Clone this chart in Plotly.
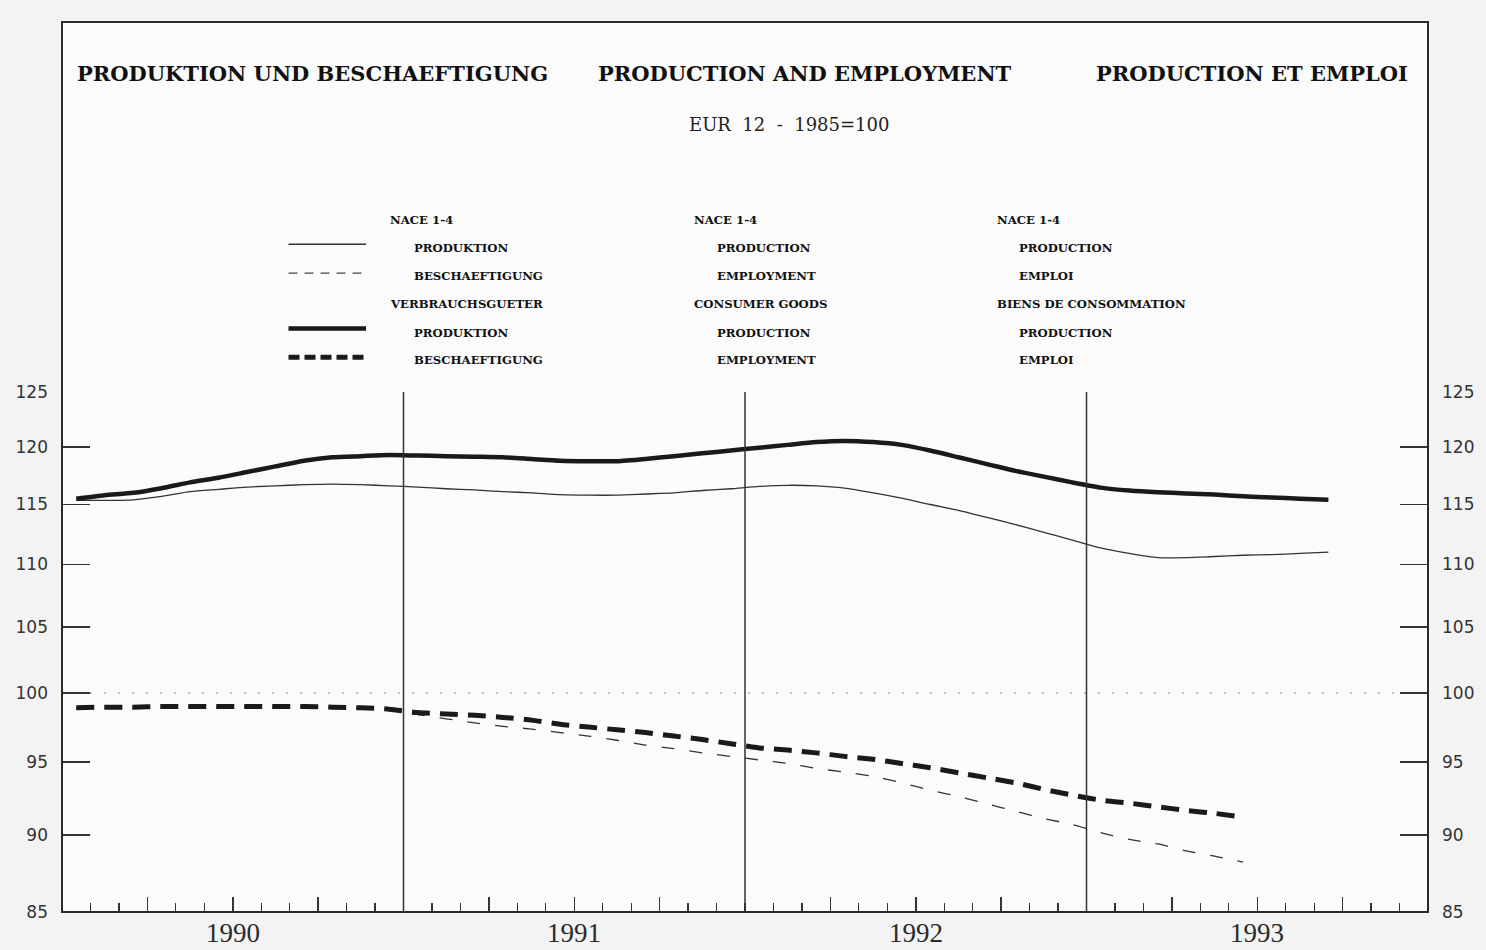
import plotly.graph_objects as go
import math

# ---------------- data (monthly, index 1985 = 100) ----------------
start_year = 1990
prod_nace = [115.35, 115.35, 115.4, 115.7, 116.1, 116.3, 116.5, 116.6, 116.7, 116.75, 116.7, 116.6,
             116.5, 116.35, 116.25, 116.1, 116.0, 115.85, 115.8, 115.8, 115.9, 116.0, 116.2, 116.35,
             116.55, 116.65, 116.6, 116.4, 116.0, 115.55, 115.0, 114.5, 113.9, 113.3, 112.65, 112.0,
             111.35, 110.9, 110.55, 110.55, 110.65, 110.75, 110.8, 110.9, 111.0]
prod_cg = [115.5, 115.8, 116.0, 116.4, 116.9, 117.3, 117.8, 118.3, 118.8, 119.1, 119.2, 119.3,
           119.25, 119.2, 119.15, 119.1, 118.95, 118.8, 118.75, 118.75, 118.95, 119.2, 119.45, 119.7,
           119.95, 120.2, 120.45, 120.55, 120.45, 120.2, 119.7, 119.1, 118.5, 117.9, 117.4, 116.9,
           116.45, 116.2, 116.05, 115.95, 115.85, 115.7, 115.6, 115.5, 115.4]
empl_nace = [98.85, 98.9, 98.9, 98.95, 98.95, 98.95, 98.95, 98.95, 98.95, 98.9, 98.85, 98.75,
             98.4, 98.1, 97.8, 97.55, 97.35, 97.1, 96.85, 96.55, 96.2, 95.95, 95.65, 95.4,
             95.15, 94.9, 94.55, 94.3, 94.0, 93.55, 93.05, 92.6, 92.1, 91.6, 91.1, 90.7,
             90.15, 89.7, 89.4, 88.95, 88.6, 88.2]
empl_cg = [98.9, 98.95, 98.95, 99.0, 99.0, 99.0, 99.0, 99.0, 99.0, 98.95, 98.9, 98.8,
           98.55, 98.45, 98.35, 98.2, 98.0, 97.7, 97.5, 97.3, 97.1, 96.85, 96.6, 96.3,
           96.0, 95.85, 95.65, 95.4, 95.2, 94.9, 94.6, 94.25, 93.9, 93.55, 93.1, 92.7,
           92.35, 92.15, 91.9, 91.65, 91.45, 91.2]

years = [1990, 1991, 1992, 1993]
y_ticks = [85, 90, 95, 100, 105, 110, 115, 120, 125]

titles = ["PRODUKTION UND BESCHAEFTIGUNG", "PRODUCTION AND EMPLOYMENT", "PRODUCTION ET EMPLOI"]
subtitle = "EUR  12  -  1985=100"
legend_cols = [
    ["NACE 1-4", "PRODUKTION", "BESCHAEFTIGUNG", "VERBRAUCHSGUETER", "PRODUKTION", "BESCHAEFTIGUNG"],
    ["NACE 1-4", "PRODUCTION", "EMPLOYMENT", "CONSUMER GOODS", "PRODUCTION", "EMPLOYMENT"],
    ["NACE 1-4", "PRODUCTION", "EMPLOI", "BIENS DE CONSOMMATION", "PRODUCTION", "EMPLOI"],
]


def month_x(n):
    return [start_year + (i + 0.5) / 12 for i in range(n)]


# ---------------- layout geometry ----------------
W, H = 1486, 950
L, R, T, B = 62, 49, 15, 38
PW, PH = W - L - R, H - T - B


def xp(px):  # screen px -> paper
    return (px - L) / PW


def yp(py):  # screen px -> paper
    return (H - B - py) / PH


dom_top = yp(388)

fig = go.Figure()

ink = "#1a1a1a"
fig.add_trace(go.Scatter(x=month_x(len(prod_nace)), y=prod_nace, mode="lines",
                         line=dict(color="#333333", width=1.3, shape="spline", smoothing=0.6),
                         showlegend=False, hoverinfo="skip"))
fig.add_trace(go.Scatter(x=month_x(len(prod_cg)), y=prod_cg, mode="lines",
                         line=dict(color=ink, width=4.5, shape="spline", smoothing=0.6),
                         showlegend=False, hoverinfo="skip"))
fig.add_trace(go.Scatter(x=month_x(len(empl_nace)), y=empl_nace, mode="lines",
                         line=dict(color="#333333", width=1.3, dash="13px,15px", shape="spline", smoothing=0.6),
                         showlegend=False, hoverinfo="skip"))
fig.add_trace(go.Scatter(x=month_x(len(empl_cg)), y=empl_cg, mode="lines",
                         line=dict(color=ink, width=5, dash="18px,10px", shape="spline", smoothing=0.6),
                         showlegend=False, hoverinfo="skip"))
# invisible trace for right axis
fig.add_trace(go.Scatter(x=[1990.5], y=[100], yaxis="y2", mode="markers",
                         marker=dict(opacity=0), showlegend=False, hoverinfo="skip"))

yr = [math.log10(85), math.log10(125)]
tickfont = dict(family="DejaVu Sans", size=17, color="#333333")
yax_common = dict(type="log", range=yr, tickvals=y_ticks, ticktext=[str(v) for v in y_ticks],
                  ticks="inside", ticklen=28, tickwidth=1.5, tickcolor="#333333",
                  showgrid=False, zeroline=False, showline=False, tickfont=tickfont,
                  ticklabelstandoff=13, fixedrange=True)

quarters = [y + q / 4 for y in range(1990, 1994) for q in (1, 2, 3)]

fig.update_layout(
    width=W, height=H,
    margin=dict(l=L, r=R, t=T, b=B),
    paper_bgcolor="#f3f3f3",
    plot_bgcolor="rgba(0,0,0,0)",
    showlegend=False,
    xaxis=dict(range=[1990, 1994], domain=[0, 1], tickvals=quarters, ticks="inside",
               ticklen=15, tickwidth=1.5, tickcolor="#333333", showticklabels=False,
               showgrid=False, zeroline=False, showline=False, fixedrange=True,
               minor=dict(ticks="inside", ticklen=9, tickwidth=1.3, tickcolor="#333333",
                          tick0=1990, dtick=1 / 12, showgrid=False)),
    yaxis=dict(domain=[0, dom_top], side="left", **yax_common),
    yaxis2=dict(overlaying="y", side="right", **yax_common),
)

shapes = []
# background of frame
shapes.append(dict(type="rect", xref="paper", yref="paper", x0=0, x1=1, y0=0, y1=1,
                   fillcolor="#fbfbfb", line=dict(width=0), layer="below"))
# reference line at 100
shapes.append(dict(type="line", xref="x domain", yref="y", x0=0, x1=1, y0=100, y1=100,
                   line=dict(color="#b0b0b0", width=1.5, dash="2px,12px"), layer="below"))
# year separators
for yv in years[1:]:
    shapes.append(dict(type="line", xref="x", yref="y domain", x0=yv, x1=yv, y0=0, y1=1,
                       line=dict(color="#333333", width=1.5)))
# frame
shapes.append(dict(type="rect", xref="paper", yref="paper", x0=0, x1=1, y0=0, y1=1,
                   line=dict(color="#2a2a2a", width=2), fillcolor="rgba(0,0,0,0)"))

# legend samples
legend_rows_y = [239, 268, 324, 353]
legend_styles = [dict(color="#333333", width=1.3),
                 dict(color="#444444", width=1.2, dash="9px,7px"),
                 dict(color=ink, width=4.5),
                 dict(color=ink, width=5, dash="11px,5px")]
for ry, st in zip(legend_rows_y, legend_styles):
    shapes.append(dict(type="line", xref="paper", yref="paper", x0=xp(290), x1=xp(368),
                       y0=yp(ry), y1=yp(ry), line=st))

annotations = []
title_font = dict(family="DejaVu Serif", size=21, color="#111111")
for txt, px in zip(titles, [75, 600, 1101]):
    annotations.append(dict(text="<b>" + txt + "</b>", xref="paper", yref="paper", x=xp(px), y=yp(67),
                            xanchor="left", yanchor="middle", showarrow=False, font=title_font))
annotations.append(dict(text=subtitle, xref="paper", yref="paper", x=xp(794), y=yp(118),
                        xanchor="center", yanchor="middle", showarrow=False,
                        font=dict(family="DejaVu Serif", size=18, color="#222222")))

leg_font = dict(family="DejaVu Serif", size=11.7, color="#111111")
col_x = [(390, 414), (696, 719), (1001, 1023)]
row_y = [215, 243, 271, 299, 328, 356]
indent = [False, True, True, False, True, True]
for (x_head, x_item), col in zip(col_x, legend_cols):
    for txt, ry, ind in zip(col, row_y, indent):
        annotations.append(dict(text="<b>" + txt + "</b>", xref="paper", yref="paper",
                                x=xp(x_item if ind else x_head), y=yp(ry),
                                xanchor="left", yanchor="middle", showarrow=False, font=leg_font))

for yv in years:
    annotations.append(dict(text=str(yv), xref="x", yref="paper", x=yv + 0.5, y=yp(933),
                            xanchor="center", yanchor="middle", showarrow=False,
                            font=dict(family="Liberation Serif", size=27, color="#2a2a2a")))

fig.update_layout(shapes=shapes, annotations=annotations)

fig.write_html("out.html",
               config={"displayModeBar": False, "staticPlot": True},
               post_script="document.body.style.margin='0';document.body.style.overflow='hidden';")
